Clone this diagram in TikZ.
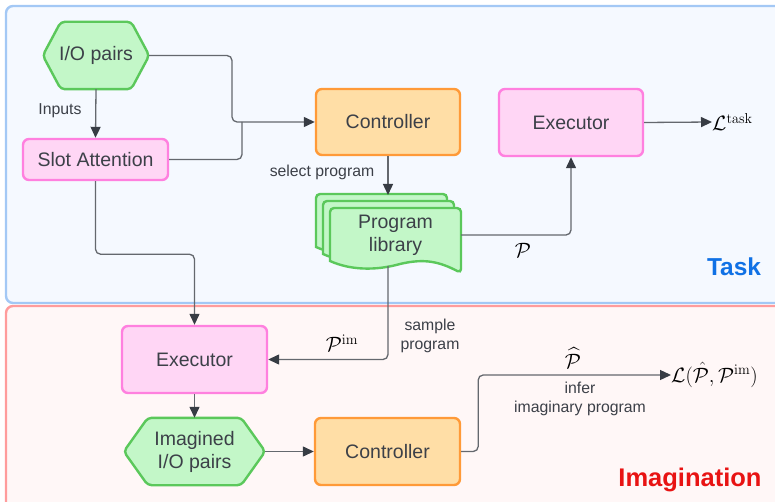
\documentclass[tikz,border=0pt]{standalone}
\usepackage{amsmath}
\usepackage[no-math]{fontspec}
\setmainfont{Liberation Sans}
\usetikzlibrary{arrows.meta,calc}
\definecolor{txt}{RGB}{60,64,72}
\definecolor{linec}{RGB}{100,104,110}
\definecolor{tipc}{RGB}{55,60,68}
\definecolor{gfill}{RGB}{195,247,200}
\definecolor{gdraw}{RGB}{91,200,91}
\definecolor{pfill}{RGB}{255,214,245}
\definecolor{pdraw}{RGB}{255,128,223}
\definecolor{ofill}{RGB}{255,222,166}
\definecolor{odraw}{RGB}{255,154,56}
\definecolor{taskfill}{RGB}{245,249,255}
\definecolor{taskdraw}{RGB}{163,200,245}
\definecolor{imfill}{RGB}{255,247,247}
\definecolor{imdraw}{RGB}{255,156,156}
\definecolor{taskc}{RGB}{16,113,229}
\definecolor{imc}{RGB}{232,19,19}
\pgfdeclarelayer{bg}
\pgfdeclarelayer{shapes}
\pgfsetlayers{bg,shapes,main}
\tikzset{
  nodetext/.style={text=txt, font=\fontsize{19.5}{23}\selectfont, align=center},
  pinkbox/.style={nodetext, draw=pdraw, fill=pfill, line width=2.4pt, rounded corners=6pt},
  orangebox/.style={nodetext, draw=odraw, fill=ofill, line width=2.4pt, rounded corners=6pt},
  hexnode/.style={nodetext, inner sep=0pt},
  hexst/.style={draw=gdraw, fill=gfill, line width=2.4pt, rounded corners=4pt},
  docst/.style={draw=gdraw, fill=gfill, line width=2.4pt, rounded corners=4pt},
  lbl/.style={text=txt, font=\fontsize{15.8}{19.5}\selectfont, align=center, inner sep=0pt},
  mathlbl/.style={text=black, font=\fontsize{20}{23}\selectfont, inner sep=0pt},
  conn/.style={draw=linec, line width=1.3pt, rounded corners=5pt},
  arr/.style={conn, -{Triangle[length=11pt,width=10pt,color=tipc]}},
}
\newcommand\myhex[2]{%
  \draw[hexst] (#1.west) -- ([xshift=#2]#1.north west) -- ([xshift=-#2]#1.north east)
    -- (#1.east) -- ([xshift=-#2]#1.south east) -- ([xshift=#2]#1.south west) -- cycle;}
\newcommand\mydoc[2]{%
  \draw[docst] (330+#1,261+#2) -- (330+#1,208+#2) -- (461+#1,208+#2) -- (461+#1,273+#2)
    [rounded corners=0pt] .. controls (440+#1,262+#2) and (425+#1,258+#2) .. (400+#1,264+#2)
    .. controls (375+#1,271+#2) and (350+#1,270+#2) .. (330+#1,261+#2) -- cycle;}
\begin{document}
\begin{tikzpicture}[x=1pt,y=-1pt]
\useasboundingbox (0,0) rectangle (775,502);
\clip (0,0) rectangle (775,502);
\begin{pgfonlayer}{bg}
  \draw[fill=taskfill, draw=taskdraw, line width=2.4pt, rounded corners=7pt] (6,6) rectangle (810,303);
  \draw[fill=imfill, draw=imdraw, line width=2.4pt, rounded corners=7pt] (6,306) rectangle (810,530);
\end{pgfonlayer}

% nodes
\node[hexnode, minimum width=106pt, minimum height=67pt] (io) at (96,55.5) {I/O pairs};
\node[pinkbox, minimum width=145pt, minimum height=41pt, inner sep=0pt] (sa) at (95.5,159.5) {Slot Attention};
\node[orangebox, minimum width=144pt, minimum height=66pt] (ctl) at (388,122) {Controller};
\node[pinkbox, minimum width=144pt, minimum height=67pt] (exe) at (571,122.5) {Executor};
\node[mathlbl, anchor=west] (ltask) at (712,122) {$\mathcal{L}^{\mathrm{task}}$};
\node[nodetext, minimum width=131pt, minimum height=54pt, inner sep=0pt] (prog) at (395.5,235) {Program\\library};
\coordinate (libtop) at (388,195);
\coordinate (libbot) at (388,266);
\coordinate (j1) at (232,122);
\coordinate (j2) at (242,122);
\node[pinkbox, minimum width=145pt, minimum height=67pt] (exe2) at (194.5,359.5) {Executor};
\node[hexnode, minimum width=141pt, minimum height=67pt] (imio) at (194.5,451.5) {Imagined\\I/O pairs};
\node[orangebox, minimum width=145pt, minimum height=67pt] (ctl2) at (387.5,451.5) {Controller};
\node[mathlbl, anchor=west] (lim) at (671,375) {$\mathcal{L}(\hat{\mathcal{P}},\mathcal{P}^{\mathrm{im}})$};

\begin{pgfonlayer}{shapes}
  \myhex{io}{18pt}
  \myhex{imio}{24pt}
  \mydoc{-14}{-14}
  \mydoc{-7}{-7}
  \mydoc{0}{0}
\end{pgfonlayer}

% connectors
\draw[arr] (io.south) -- (sa.north);
\draw[arr] (io.east) -| (j1) -- (ctl.west);
\draw[conn] (sa.east) -| (j2);
\draw[arr] (ctl.south) -- (libtop);
\draw[arr] (prog.east) -| (exe.south);
\draw[arr] (exe.east) -- (ltask.west);
\draw[arr] (sa.south) -- ++(0,73) -| (exe2.north);
\draw[arr] (libbot) |- (exe2.east);
\draw[arr] (exe2.south) -- (imio.north);
\draw[arr] (imio.east) -- (ctl2.west);
\draw[arr] (ctl2.east) -- ++(17,0) |- (lim.west);

% labels
\node[lbl] (linputs) at (60,111) {Inputs};
\node[lbl] (lselect) at (322,172) {select program};
\node[mathlbl] (lp) at (523,250) {$\mathcal{P}$};
\node[mathlbl] (lpim) at (342,343) {$\mathcal{P}^{\mathrm{im}}$};
\node[lbl] (lsample) at (430,336) {sample\\program};
\node[mathlbl] (lphat) at (573,358) {$\widehat{\mathcal{P}}$};
\node[lbl] (linfer) at (580,399) {infer\\imaginary program};
\node[text=taskc, font=\bfseries\fontsize{24.5}{28}\selectfont] (ltaskpanel) at (734,267) {Task};
\node[text=imc, font=\bfseries\fontsize{25.5}{29}\selectfont] (limpanel) at (690,480) {Imagination};
\end{tikzpicture}
\end{document}
